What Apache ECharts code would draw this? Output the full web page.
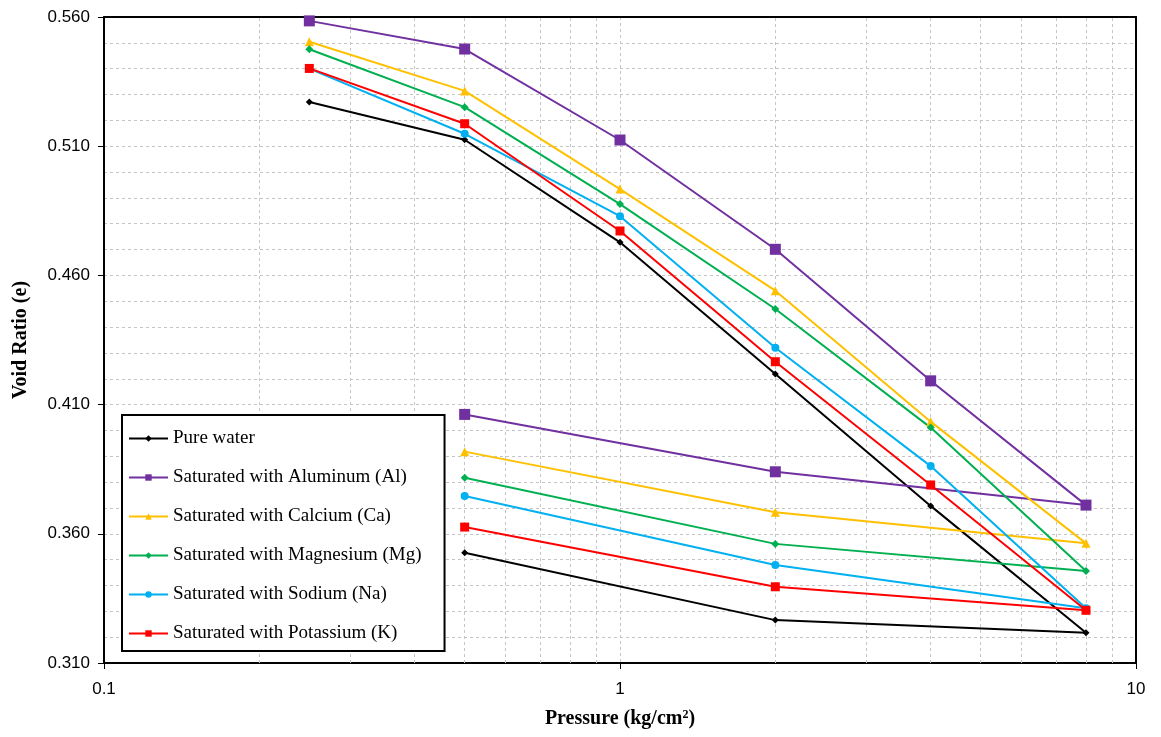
<!DOCTYPE html>
<html lang="en">
<head>
  <meta charset="UTF-8">
  <title>Void Ratio vs Pressure</title>
  <style>
    html, body { margin: 0; padding: 0; background: #fff; }
    #chart { width: 1161px; height: 737px; }
  </style>
</head>
<body>
  <div id="chart"></div>
  <script src="https://cdn.jsdelivr.net/npm/echarts@6/dist/echarts.min.js"></script>
  <script>
// pressures: loading path then unloading path
const loadPressure = [0.25, 0.5, 1, 2, 4, 8];
const unloadPressure = [2, 0.5];
const minorX = [0.2, 0.3, 0.4, 0.5, 0.6, 0.7, 0.8, 0.9, 2, 3, 4, 5, 6, 7, 8, 9];

// void ratio, same order: 0.25 .. 8, then 2, 0.5
const pureWater = [0.5271, 0.5125, 0.4728, 0.4218, 0.3708, 0.3217, 0.3266, 0.3527];
const aluminum  = [0.5585, 0.5476, 0.5124, 0.4701, 0.4192, 0.3711, 0.3840, 0.4062];
const calcium   = [0.5504, 0.5314, 0.4934, 0.4541, 0.4034, 0.3563, 0.3683, 0.3918];
const magnesium = [0.5475, 0.5251, 0.4876, 0.4470, 0.4011, 0.3456, 0.3561, 0.3817];
const sodium    = [0.5400, 0.5148, 0.4829, 0.4320, 0.3862, 0.3312, 0.3479, 0.3746];
const potassium = [0.5401, 0.5187, 0.4772, 0.4266, 0.3789, 0.3304, 0.3395, 0.3626];

const names = [
  'Pure water',
  'Saturated with Aluminum (Al)',
  'Saturated with Calcium (Ca)',
  'Saturated with Magnesium (Mg)',
  'Saturated with Sodium (Na)',
  'Saturated with Potassium (K)'
];

const pressures = loadPressure.concat(unloadPressure);
const toPairs = arr => arr.map((v, i) => [pressures[i], v]);

function mkSeries(name, values, color, symbol, size) {
  return {
    name: name,
    type: 'line',
    data: toPairs(values),
    symbol: symbol,
    symbolSize: size,
    z: 3,
    lineStyle: { color: color, width: 2 },
    itemStyle: { color: color },
    emphasis: { disabled: true }
  };
}

const gridGray = '#c4c4c4';
const frame = { show: true, onZero: false, lineStyle: { color: '#000', width: 2 } };
const chart = echarts.init(document.getElementById('chart'));

chart.setOption({
  animation: false,
  grid: { left: 104, right: 25, top: 17, bottom: 74 },
  xAxis: [{
    type: 'log',
    logBase: 10,
    min: 0.1,
    max: 10,
    name: 'Pressure (kg/cm{sup|2})',
    nameLocation: 'middle',
    nameGap: 46,
    nameTextStyle: {
      fontFamily: 'Liberation Serif', fontWeight: 'bold', fontSize: 20, color: '#000',
      rich: { sup: { fontFamily: 'Liberation Serif', fontWeight: 'bold', fontSize: 12, verticalAlign: 'top', padding: [0, 0, 8, 0] } }
    },
    axisLine: frame,
    axisTick: { show: true, length: 6, lineStyle: { color: '#000' } },
    axisLabel: {
      margin: 18, color: '#000', fontFamily: 'Liberation Sans', fontSize: 17,
      formatter: v => String(v)
    },
    splitLine: { show: true, lineStyle: { color: gridGray, type: [3, 3] } }
  }, {
    // top edge of the frame
    type: 'log', logBase: 10, min: 0.1, max: 10, position: 'top',
    axisLine: frame, axisTick: { show: false }, axisLabel: { show: false }, splitLine: { show: false }
  }],
  yAxis: [{
    type: 'value',
    min: 0.31,
    max: 0.56,
    interval: 0.05,
    name: 'Void Ratio (e)',
    nameLocation: 'middle',
    nameGap: 73,
    nameTextStyle: { fontFamily: 'Liberation Serif', fontWeight: 'bold', fontSize: 20, color: '#000' },
    axisLine: frame,
    axisTick: { show: true, length: 6, lineStyle: { color: '#000' } },
    axisLabel: {
      margin: 14, color: '#000', fontFamily: 'Liberation Sans', fontSize: 17,
      formatter: v => v.toFixed(3)
    },
    splitLine: { show: true, lineStyle: { color: gridGray, type: [3, 3] } },
    minorTick: { show: false, splitNumber: 5 },
    minorSplitLine: { show: true, lineStyle: { color: gridGray, type: [3, 3] } }
  }, {
    // right edge of the frame
    type: 'value', min: 0.31, max: 0.56, interval: 0.05, position: 'right',
    axisLine: frame, axisTick: { show: false }, axisLabel: { show: false }, splitLine: { show: false }
  }],
  legend: {
    data: names,
    orient: 'vertical',
    left: 122,
    top: 415,
    itemWidth: 39,
    itemHeight: 8,
    itemGap: 20,
    padding: [14, 23, 8, 6],
    backgroundColor: '#fff',
    borderColor: '#000',
    borderWidth: 2,
    borderRadius: 0,
    textStyle: { fontFamily: 'Liberation Serif', fontSize: 19, color: '#000' }
  },
  series: [
    {
      // minor vertical grid lines of the log axis, kept under the data
      type: 'line',
      data: [],
      silent: true,
      z: 1,
      markLine: {
        silent: true,
        z: 1,
        symbol: 'none',
        animation: false,
        label: { show: false },
        lineStyle: { color: gridGray, type: [3, 3], width: 1 },
        data: minorX.map(x => ({ xAxis: x }))
      }
    },
    mkSeries(names[0], pureWater, '#000000', 'diamond', 7),
    mkSeries(names[1], aluminum, '#7030A0', 'rect', 11),
    mkSeries(names[2], calcium, '#FFC000', 'triangle', 9),
    mkSeries(names[3], magnesium, '#00B050', 'diamond', 8),
    mkSeries(names[4], sodium, '#00B0F0', 'circle', 8),
    mkSeries(names[5], potassium, '#FF0000', 'rect', 9)
  ]
});
  </script>
</body>
</html>
